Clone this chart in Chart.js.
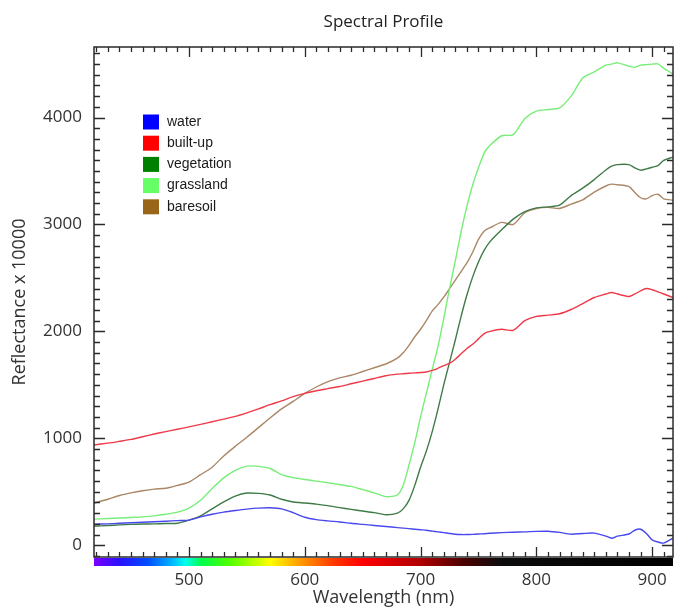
<!DOCTYPE html>
<html>
<head>
<meta charset="utf-8">
<title>Spectral Profile</title>
<script src="https://cdn.jsdelivr.net/npm/chart.js@4.4.0/dist/chart.umd.min.js"></script>
<style>
    html, body { margin: 0; padding: 0; background: #fff; }
    #myChart { display: block; }
</style>
</head>
<body>
<canvas id="myChart" width="680" height="607"></canvas>
<script>
// wavelength (nm) of every sample, shared by all classes
var wavelengths = [418, 430, 440, 450, 460, 470, 480, 490, 500, 510, 520, 530, 540, 550, 560, 570, 580, 590, 600, 610, 620, 630, 640, 650, 660, 670, 680,
    685, 690, 695, 700, 705, 710, 715, 720, 725, 730, 735, 740, 745, 750, 755, 760,
    770, 780, 790, 800, 810, 820, 830, 840, 850, 860, 865, 870, 880, 885, 890, 895, 900, 905, 910, 918];

// reflectance x 10000
var water = [197, 200, 205, 210, 215, 220, 225, 230, 235, 265, 290, 310, 325, 338, 347, 350, 340, 305, 262, 240, 228, 218, 205, 195, 185, 175, 165,
    160, 155, 150, 145, 140, 132, 125, 118, 110, 103, 100, 100, 102, 105, 108, 112,
    118, 122, 125, 130, 131, 120, 103, 110, 113, 85, 66, 85, 105, 140, 150, 110, 50, 30, 20, 66];
var builtUp = [938, 955, 972, 990, 1015, 1040, 1063, 1085, 1107, 1130, 1155, 1180, 1205, 1238, 1275, 1315, 1350, 1390, 1420, 1445, 1465, 1485, 1510, 1535, 1560, 1585, 1600,
    1604, 1608, 1612, 1615, 1620, 1635, 1655, 1680, 1700, 1740, 1790, 1840, 1880, 1930, 1980, 2000,
    2020, 2010, 2100, 2140, 2152, 2165, 2205, 2260, 2317, 2350, 2364, 2350, 2326, 2350, 2380, 2401, 2390, 2370, 2350, 2317];
var vegetation = [178, 185, 190, 195, 198, 200, 203, 206, 235, 275, 340, 405, 460, 488, 485, 470, 430, 405, 395, 385, 370, 352, 335, 320, 305, 285, 300,
    340, 420, 560, 730, 880, 1060, 1270, 1500, 1710, 1920, 2140, 2340, 2510, 2650, 2760, 2840,
    2950, 3050, 3120, 3155, 3165, 3180, 3270, 3340, 3420, 3510, 3545, 3560, 3560, 3530, 3508, 3520, 3535, 3550, 3600, 3630];
var grassland = [244, 250, 255, 260, 265, 275, 290, 310, 347, 420, 530, 630, 700, 740, 738, 718, 660, 632, 615, 600, 585, 568, 550, 520, 490, 455, 470,
    560, 750, 960, 1200, 1420, 1640, 1857, 2120, 2400, 2660, 2930, 3170, 3370, 3530, 3670, 3740,
    3830, 3840, 3990, 4060, 4075, 4090, 4200, 4370, 4427, 4490, 4500, 4512, 4480, 4470, 4490, 4495, 4500, 4502, 4460, 4409];
var baresoil = [394, 430, 465, 490, 510, 525, 533, 560, 591, 660, 730, 835, 925, 1010, 1100, 1190, 1275, 1345, 1420, 1480, 1530, 1565, 1590, 1625, 1660, 1695, 1750,
    1800, 1870, 1950, 2020, 2100, 2190, 2250, 2320, 2400, 2480, 2560, 2640, 2740, 2860, 2940, 2970,
    3020, 3000, 3110, 3150, 3160, 3150, 3190, 3230, 3302, 3360, 3377, 3372, 3355, 3300, 3250, 3240, 3270, 3283, 3240, 3227];

var classNames = ['water', 'built-up', 'vegetation', 'grassland', 'baresoil'];
var xTickLabels = [500, 600, 700, 800, 900];
var yTickLabels = [0, 1000, 2000, 3000, 4000];

var lineColors = ['#4848ee', '#ee3a48', '#3f7b47', '#78ee78', '#aa8766'];
var swatchColors = ['#0000ff', '#ff0000', '#008000', '#66ff66', '#996619'];

// colour of the visible spectrum under the x axis
var spectrumStops = [[418, '#7a00ff'], [440, '#2a10ff'], [465, '#0050ff'], [485, '#00b4ff'], [497, '#00ffee'],
    [510, '#00ff50'], [535, '#50ff00'], [570, '#ffff00'], [595, '#ffa000'], [625, '#ff3800'], [650, '#ff0000'],
    [700, '#b00000'], [735, '#500000'], [770, '#0c0c0c'], [918, '#000000']];

function toPoints(values) {
    return wavelengths.map(function(w, i) { return { x: w, y: values[i] }; });
}

var allSeries = [water, builtUp, vegetation, grassland, baresoil];
var datasets = [];
for (var i = 0; i < allSeries.length; i++) {
    datasets.push({
        label: classNames[i],
        data: toPoints(allSeries[i]),
        borderColor: lineColors[i],
        backgroundColor: swatchColors[i],
        borderWidth: 1.4,
        pointRadius: 0,
        tension: 0.25,
        fill: false
    });
}

// frame with inward ticks, spectrum strip and the small legend box
var framePlugin = {
    id: 'framePlugin',
    afterDatasetsDraw: function(chart) {
        var ctx = chart.ctx;
        var a = chart.chartArea;
        var xs = chart.scales.x;
        var ys = chart.scales.y;
        ctx.save();

        var grad = ctx.createLinearGradient(a.left, 0, a.right, 0);
        spectrumStops.forEach(function(s) {
            var p = (xs.getPixelForValue(s[0]) - a.left) / (a.right - a.left);
            grad.addColorStop(Math.min(Math.max(p, 0), 1), s[1]);
        });
        ctx.fillStyle = grad;
        ctx.fillRect(a.left, a.bottom + 1, a.right - a.left, 8);

        ctx.strokeStyle = '#2a2a2a';
        ctx.lineWidth = 1.5;
        ctx.strokeRect(a.left, a.top, a.right - a.left, a.bottom - a.top);

        ctx.lineWidth = 1.3;
        ctx.beginPath();
        var w, v, px, py, len;
        for (w = 420; w <= 910; w += 10) {
            px = Math.round(xs.getPixelForValue(w)) + 0.5;
            len = w % 100 === 0 ? 10 : 5;
            ctx.moveTo(px, a.bottom); ctx.lineTo(px, a.bottom - len);
            ctx.moveTo(px, a.top); ctx.lineTo(px, a.top + len);
        }
        for (v = -100; v <= 4600; v += 100) {
            py = Math.round(ys.getPixelForValue(v)) + 0.5;
            len = v % 1000 === 0 ? 11 : 6;
            ctx.moveTo(a.left, py); ctx.lineTo(a.left + len, py);
            ctx.moveTo(a.right, py); ctx.lineTo(a.right - len, py);
        }
        ctx.stroke();

        ctx.font = '14px "Liberation Sans", Arial, sans-serif';
        ctx.textBaseline = 'middle';
        chart.data.datasets.forEach(function(ds, k) {
            var cy = 122 + k * 21.2;
            ctx.fillStyle = ds.backgroundColor;
            ctx.fillRect(143, cy - 7.5, 16, 15);
            ctx.fillStyle = '#1a1a1a';
            ctx.fillText(ds.label, 167, cy);
        });
        ctx.restore();
    }
};

var ctx = document.getElementById('myChart');
var chart = new Chart(ctx, {
    type: 'line',
    data: { datasets: datasets },
    options: {
        responsive: false,
        animation: false,
        devicePixelRatio: 1,
        layout: { padding: { top: 0, right: 1, left: 0, bottom: 0 } },
        plugins: {
            legend: { display: false },
            tooltip: { enabled: false },
            title: {
                display: true,
                text: 'Spectral Profile',
                fullSize: false,
                color: '#222',
                font: { family: '"Open Sans", sans-serif', size: 17, weight: 'normal' },
                padding: { top: 12, bottom: 14.6 }
            }
        },
        scales: {
            x: {
                type: 'linear',
                min: 418,
                max: 918,
                afterBuildTicks: function(scale) {
                    scale.ticks = xTickLabels.map(function(t) { return { value: t }; });
                },
                afterFit: function(scale) { scale.height = 50; },
                grid: { display: false, drawTicks: false },
                border: { display: false },
                ticks: {
                    color: '#333',
                    padding: 13,
                    maxRotation: 0,
                    callback: function(value) { return String(value); },
                    font: { family: '"Open Sans", sans-serif', size: 17 }
                },
                title: {
                    display: true,
                    text: 'Wavelength (nm)',
                    color: '#333',
                    padding: { top: 0, bottom: 0 },
                    font: { family: '"Open Sans", sans-serif', size: 18, lineHeight: 1 }
                }
            },
            y: {
                min: -110,
                max: 4660,
                afterBuildTicks: function(scale) {
                    scale.ticks = yTickLabels.map(function(t) { return { value: t }; });
                },
                afterFit: function(scale) { scale.width = 94; },
                grid: { display: false, drawTicks: false },
                border: { display: false },
                ticks: {
                    color: '#333',
                    padding: 12,
                    callback: function(value) { return String(value); },
                    font: { family: '"Open Sans", sans-serif', size: 17 }
                },
                title: {
                    display: true,
                    text: 'Reflectance x 10000',
                    color: '#333',
                    padding: { top: 9, bottom: 0 },
                    font: { family: '"Open Sans", sans-serif', size: 18 }
                }
            }
        }
    },
    plugins: [framePlugin]
});
console.log(chart.chartArea);
</script>
</body>
</html>
